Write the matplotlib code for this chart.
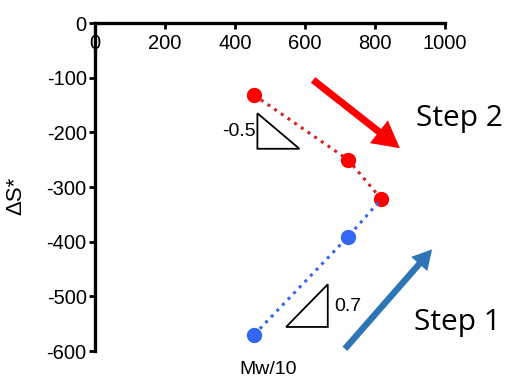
import matplotlib.pyplot as plt
from matplotlib.patches import Polygon

# Data
mw10 = [455, 723, 818]
step2_ds = [-132, -250, -322]   # red series (Step 2)
step1_ds = [-570, -391, -322]   # blue series (Step 1)
x_ticks = [0, 200, 400, 600, 800, 1000]
y_ticks = [0, -100, -200, -300, -400, -500, -600]

red = '#FF0000'
blue = '#3366F2'
arrow_blue = '#2E75B6'

plt.rcParams['font.family'] = ['Liberation Sans', 'DejaVu Sans']
plt.rcParams['axes.unicode_minus'] = False

fig = plt.figure(figsize=(5.09, 3.78), dpi=100)
ax = fig.add_axes([0.1866, 0.0714, 0.6877, 0.8676])
ax.set_xlim(0, 1000)
ax.set_ylim(-600, 0)

# Step 2 (red) series
ax.plot(mw10, step2_ds, linestyle=':', color='#D62020', lw=2.2, zorder=3)
ax.plot(mw10, step2_ds, linestyle='none', marker='o', ms=10, color=red, zorder=4)
# Step 1 (blue) series, dotted line drawn over the shared red point
ax.plot(mw10, step1_ds, linestyle=':', color=blue, lw=2.2, zorder=5)
ax.plot(mw10[:2], step1_ds[:2], linestyle='none', marker='o', ms=10, color=blue, zorder=4)

# slope triangles
ax.add_patch(Polygon([(464, -165), (464, -230), (584, -230)], closed=True,
                     fill=False, edgecolor='black', lw=1.3))
ax.text(458, -198, '-0.5', ha='right', va='center', fontsize=14)
ax.add_patch(Polygon([(546, -556), (665, -556), (665, -478)], closed=True,
                     fill=False, edgecolor='black', lw=1.3))
ax.text(683, -519, '0.7', ha='left', va='center', fontsize=14)

# step arrows
ax.annotate('', xy=(871, -229), xytext=(623, -104),
            arrowprops=dict(arrowstyle='simple,head_width=1.3,head_length=1.2,tail_width=0.32',
                            mutation_scale=16, color=red, lw=0, shrinkA=0, shrinkB=0))
ax.annotate('', xy=(963, -414), xytext=(714, -596),
            arrowprops=dict(arrowstyle='simple,head_width=1.1,head_length=1.0,tail_width=0.33',
                            mutation_scale=14, color=arrow_blue, lw=0, shrinkA=0, shrinkB=0))
ax.text(1041, -175, 'Step 2', ha='center', va='center', fontsize=21.5,
        family='Open Sans', clip_on=False)
ax.text(1035, -548, 'Step 1', ha='center', va='center', fontsize=21.5,
        family='Open Sans', clip_on=False)

ax.text(494, -633, 'Mw/10', ha='center', va='center', fontsize=14, clip_on=False)
ax.set_ylabel('ΔS*', fontsize=16)
ax.yaxis.set_label_coords(-0.195, 0.473)

# axes: x axis line sits at y = 0 (the top), y axis on the left
ax.spines['bottom'].set_position(('data', 0))
ax.spines['top'].set_visible(False)
ax.spines['right'].set_visible(False)
ax.spines['bottom'].set_linewidth(2.4)
ax.spines['left'].set_linewidth(2.4)
ax.set_xticks(x_ticks)
ax.set_yticks(y_ticks)
ax.tick_params(axis='both', direction='out', length=4, width=2, labelsize=14.5, pad=2)
ax.tick_params(axis='x', pad=4)

fig.savefig('out.png', dpi=100)
